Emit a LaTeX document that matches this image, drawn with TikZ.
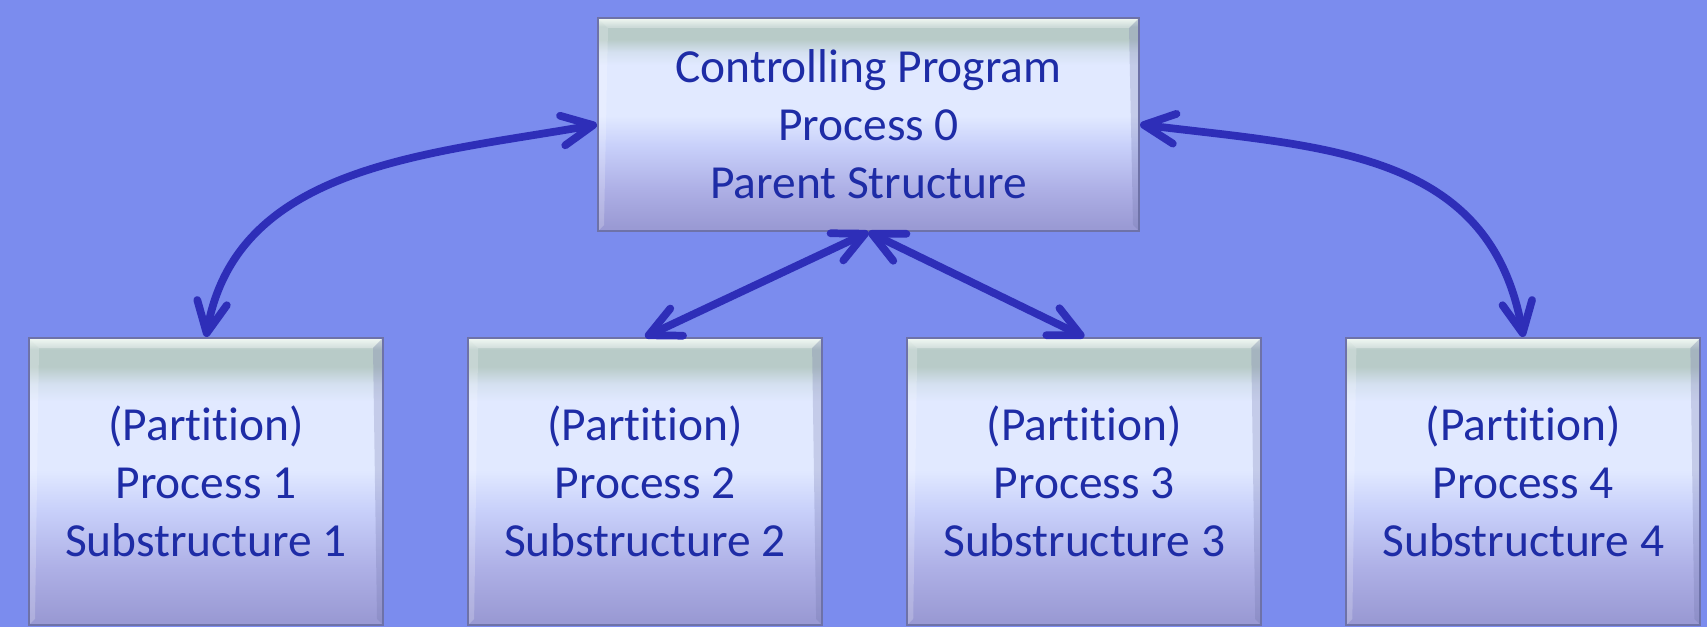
\documentclass[tikz,border=0pt]{standalone}
\usepackage{fontspec}
\setmainfont{Carlito}[Ligatures=NoCommon]
\usetikzlibrary{positioning}
\usetikzlibrary{arrows.meta}
\definecolor{bgblue}{HTML}{7B8CEE}
\definecolor{linkblue}{HTML}{2E2EB8}
\definecolor{textblue}{HTML}{1E2CA6}
\definecolor{boxrim}{HTML}{6E72A8}
\definecolor{shbottom}{HTML}{9A9AD4}
\definecolor{shlow}{HTML}{AEB0E6}
\definecolor{shmid}{HTML}{C8D0FA}
\definecolor{shlight}{HTML}{E1E9FF}
\definecolor{shfade}{HTML}{D4E0F0}
\definecolor{shgreen}{HTML}{B8CBC8}
\definecolor{shtop}{HTML}{ECF6EE}
\pgfdeclareverticalshading{boxshade}{100bp}{
  color(0bp)=(shbottom); color(26bp)=(shbottom); color(35bp)=(shlow);
  color(45bp)=(shmid); color(52bp)=(shlight); color(64bp)=(shlight);
  color(67bp)=(shfade); color(70bp)=(shgreen); color(73bp)=(shgreen);
  color(75bp)=(shtop); color(100bp)=(shtop)}
\begin{document}
\begin{tikzpicture}[
    box/.style={draw=boxrim, line width=0.6pt, shading=boxshade, inner sep=0pt,
      align=center, text=textblue, font=\fontsize{13.5}{16.5}\selectfont,
      path picture={
        \fill[white, opacity=0.3] (path picture bounding box.north west)
          -- (path picture bounding box.north east)
          -- ([shift={(-0.1,-0.1)}]path picture bounding box.north east)
          -- ([shift={(0.1,-0.1)}]path picture bounding box.north west) -- cycle;
        \fill[boxrim, opacity=0.25] (path picture bounding box.north east)
          -- ([shift={(-0.1,-0.1)}]path picture bounding box.north east)
          -- ([shift={(-0.06,0.06)}]path picture bounding box.south east)
          -- (path picture bounding box.south east) -- cycle;
        \fill[white, opacity=0.2] (path picture bounding box.north west)
          -- ([shift={(0.1,-0.1)}]path picture bounding box.north west)
          -- ([shift={(0.06,0.06)}]path picture bounding box.south west)
          -- (path picture bounding box.south west) -- cycle;}},
    part/.style={box, minimum width=3.54cm, minimum height=2.87cm},
    link/.style={draw=linkblue, line width=2.2pt, line cap=round,
      {Straight Barb[length=3.1mm, width=3mm, round]}-{Straight Barb[length=3.1mm, width=3mm, round]}}]
  \fill[bgblue] (0,0) rectangle (17.07,6.27);
  \useasboundingbox (0,0) rectangle (17.07,6.27);
  \node[box, minimum width=5.41cm, minimum height=2.13cm] (parent) at (8.685,5.025)
    {Controlling Program\\Process 0\\Parent Structure};
  \node[part] (p1) at (2.06,1.455) {(Partition)\\Process 1\\Substructure 1};
  \node[part, right=0.83cm of p1] (p2) {(Partition)\\Process 2\\Substructure 2};
  \node[part, right=0.83cm of p2] (p3) {(Partition)\\Process 3\\Substructure 3};
  \node[part, right=0.83cm of p3] (p4) {(Partition)\\Process 4\\Substructure 4};
  \draw[link] (parent.west) to[out=190, in=80] (p1.north);
  \draw[link] (parent.east) to[out=-7, in=100, looseness=1.1] (p4.north);
  \draw[link] (parent.south) -- (p2.north);
  \draw[link] (parent.south) -- (p3.north);
\end{tikzpicture}
\end{document}
